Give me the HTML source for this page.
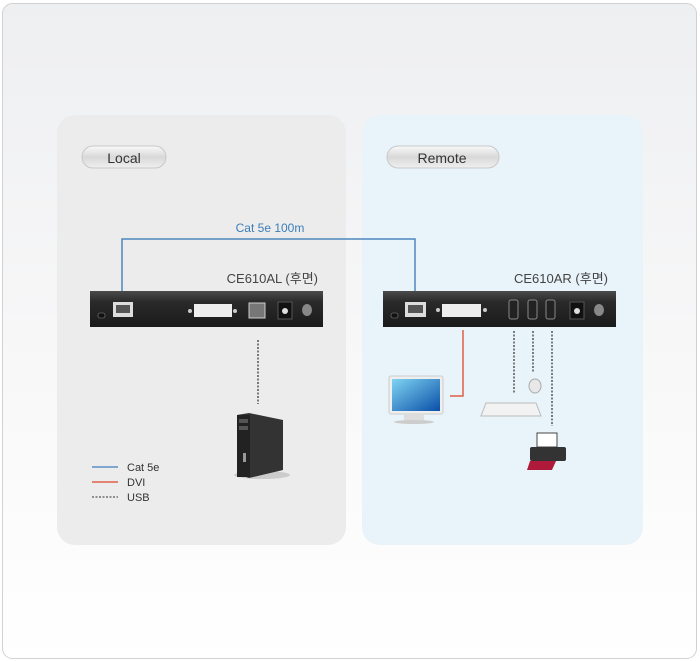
<!DOCTYPE html>
<html><head><meta charset="utf-8"><style>
html,body{margin:0;padding:0;background:#fff}
svg{display:block}
text{font-family:"Liberation Sans","Noto Sans CJK KR",sans-serif}
</style></head><body>
<svg width="700" height="661" viewBox="0 0 700 661">
<defs>
<linearGradient id="bg" x1="0" y1="0" x2="0" y2="1">
<stop offset="0" stop-color="#eeeff1"/><stop offset="0.5" stop-color="#f7f7f8"/><stop offset="1" stop-color="#ffffff"/>
</linearGradient>
<linearGradient id="pill" x1="0" y1="0" x2="0" y2="1">
<stop offset="0" stop-color="#fafafa"/><stop offset="0.5" stop-color="#d8d8d8"/><stop offset="1" stop-color="#f0f0f0"/>
</linearGradient>
<linearGradient id="dev" x1="0" y1="0" x2="0" y2="1">
<stop offset="0" stop-color="#4a4a4a"/><stop offset="0.3" stop-color="#2a2a2a"/><stop offset="1" stop-color="#1a1a1a"/>
</linearGradient>
<linearGradient id="scr" x1="0" y1="0" x2="1" y2="1">
<stop offset="0" stop-color="#7fd4f2"/><stop offset="1" stop-color="#0a4fa8"/>
</linearGradient>
</defs>
<rect x="2.5" y="3.5" width="694" height="655" rx="10" fill="url(#bg)" stroke="#d2d2d2"/>
<rect x="57" y="115" width="289" height="430" rx="18" fill="#ececec"/>
<rect x="362" y="115" width="281" height="430" rx="18" fill="#e8f3fa"/>
<rect x="82" y="146" width="84" height="22" rx="11" fill="url(#pill)" stroke="#c8c8c8"/>
<text x="124" y="163" font-size="14" text-anchor="middle" fill="#333">Local</text>
<rect x="387" y="146" width="112" height="22" rx="11" fill="url(#pill)" stroke="#c8c8c8"/>
<text x="442" y="163" font-size="14" text-anchor="middle" fill="#333">Remote</text>
<polyline points="122,302 122,239 415,239 415,302" fill="none" stroke="#4d87bd" stroke-width="1.5"/>
<text x="270" y="232" font-size="12" text-anchor="middle" fill="#3b7db8">Cat 5e 100m</text>
<text x="318" y="283" font-size="13" text-anchor="end" fill="#444">CE610AL (후면)</text>
<text x="608" y="283" font-size="13" text-anchor="end" fill="#444">CE610AR (후면)</text>
<!-- left device -->
<rect x="90" y="291" width="233" height="36" fill="url(#dev)"/>
<rect x="98" y="313" width="7" height="5" rx="2" fill="#111" stroke="#888" stroke-width="0.6"/>
<rect x="113" y="302" width="20" height="15" fill="#ddd"/><rect x="116" y="305" width="14" height="8" fill="#555"/>
<circle cx="190" cy="311" r="2" fill="#ccc"/><rect x="194" y="304" width="38" height="13" fill="#eee"/><circle cx="235" cy="311" r="2" fill="#ccc"/>
<rect x="249" y="303" width="16" height="15" fill="#777" stroke="#ccc"/>
<rect x="278" y="302" width="14" height="17" fill="#111" stroke="#555"/><circle cx="285" cy="311" r="3" fill="#ddd"/>
<ellipse cx="307" cy="310" rx="5" ry="6" fill="#888"/>
<!-- right device -->
<rect x="383" y="291" width="233" height="36" fill="url(#dev)"/>
<rect x="391" y="313" width="7" height="5" rx="2" fill="#111" stroke="#888" stroke-width="0.6"/>
<rect x="405" y="302" width="21" height="15" fill="#ddd"/><rect x="408" y="305" width="15" height="8" fill="#555"/>
<circle cx="438" cy="310" r="2" fill="#ccc"/><rect x="442" y="304" width="39" height="13" fill="#eee"/><circle cx="485" cy="310" r="2" fill="#ccc"/>
<rect x="509" y="300" width="9" height="19" rx="2" fill="#222" stroke="#888"/>
<rect x="528" y="300" width="9" height="19" rx="2" fill="#222" stroke="#888"/>
<rect x="546" y="300" width="9" height="19" rx="2" fill="#222" stroke="#888"/>
<rect x="570" y="302" width="14" height="17" fill="#111" stroke="#555"/><circle cx="577" cy="311" r="3" fill="#ddd"/>
<ellipse cx="599" cy="310" rx="5" ry="6" fill="#888"/>
<!-- connectors -->
<line x1="258" y1="340" x2="258" y2="404" stroke="#555" stroke-width="1.5" stroke-dasharray="2,1.5"/>
<polyline points="463,330 463,396 450,396" fill="none" stroke="#e06048" stroke-width="1.5"/>
<line x1="514" y1="331" x2="514" y2="393" stroke="#555" stroke-width="1.5" stroke-dasharray="2,1.5"/>
<line x1="533" y1="331" x2="533" y2="373" stroke="#555" stroke-width="1.5" stroke-dasharray="2,1.5"/>
<line x1="552" y1="331" x2="552" y2="426" stroke="#555" stroke-width="1.5" stroke-dasharray="2,1.5"/>
<!-- computer -->
<ellipse cx="262" cy="475" rx="28" ry="4" fill="#ccc"/>
<polygon points="237,415 249,413 283,420 283,470 249,478 237,474" fill="#333"/>
<rect x="237" y="415" width="13" height="62" fill="#222"/>
<rect x="239" y="419" width="9" height="4" fill="#555"/><rect x="239" y="426" width="9" height="4" fill="#555"/>
<rect x="243" y="453" width="3" height="9" fill="#999"/>
<!-- monitor -->
<rect x="389" y="376" width="54" height="38" rx="2" fill="#eee" stroke="#ccc"/>
<rect x="392" y="379" width="48" height="32" fill="url(#scr)"/>
<rect x="404" y="414" width="20" height="6" fill="#ddd"/>
<ellipse cx="414" cy="422" rx="20" ry="2" fill="#ccc"/>
<!-- mouse & keyboard -->
<ellipse cx="535" cy="386" rx="6" ry="7" fill="#e8e8e8" stroke="#aaa"/>
<polygon points="486,403 536,403 541,416 481,416" fill="#f2f2f2" stroke="#bbb"/>
<!-- printer -->
<rect x="537" y="433" width="20" height="14" fill="#fff" stroke="#444"/>
<rect x="530" y="447" width="36" height="14" rx="2" fill="#333"/>
<polygon points="530,461 556,461 552,470 527,470" fill="#b01a3a"/>
<!-- legend -->
<line x1="92" y1="467" x2="118" y2="467" stroke="#5a8fc4" stroke-width="1.5"/>
<text x="127" y="471" font-size="11" fill="#333">Cat 5e</text>
<line x1="92" y1="482" x2="118" y2="482" stroke="#e06048" stroke-width="1.5"/>
<text x="127" y="486" font-size="11" fill="#333">DVI</text>
<line x1="92" y1="497" x2="118" y2="497" stroke="#555" stroke-width="1.2" stroke-dasharray="2,1.5"/>
<text x="127" y="501" font-size="11" fill="#333">USB</text>
</svg>
</body></html>
